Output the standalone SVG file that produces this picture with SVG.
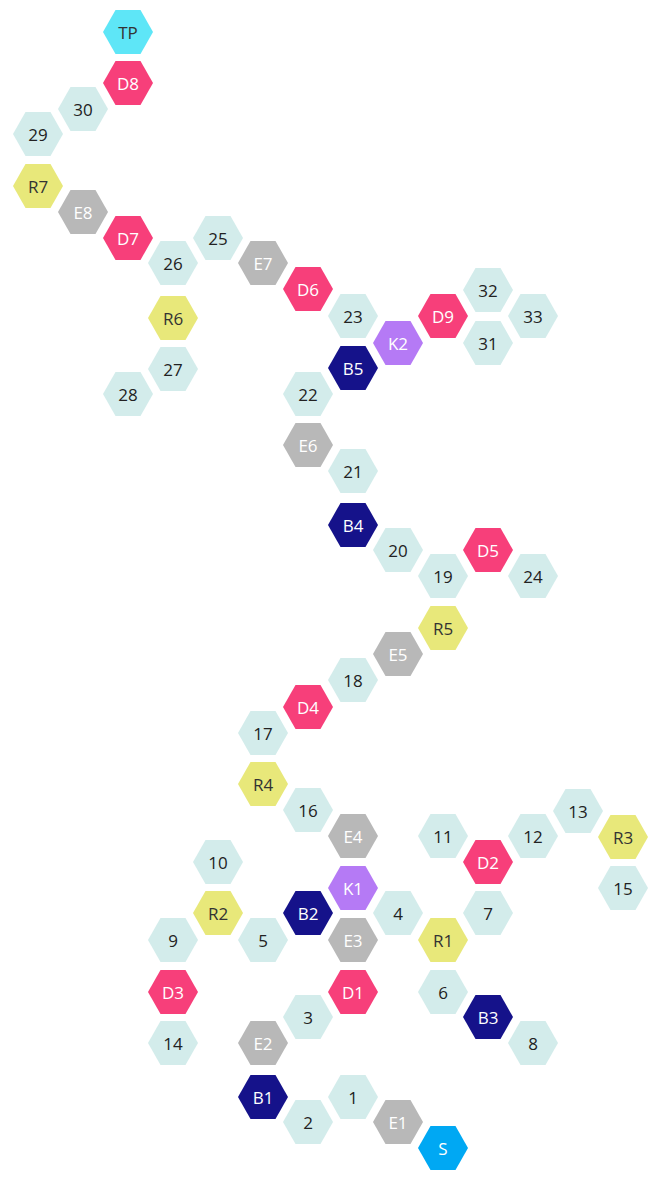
<svg xmlns="http://www.w3.org/2000/svg" width="656" height="1177" viewBox="0 0 656 1177">
<defs><polygon id="h" points="-25,0 -12.5,-22 12.5,-22 25,0 12.5,22 -12.5,22"/></defs>
<style>
text{font-family:"Open Sans","DejaVu Sans",sans-serif;font-size:17px;text-anchor:middle;dominant-baseline:central}
.n use{fill:#d3eceb}.n text{fill:#222}
.d use{fill:#f73f7a}.d text{fill:#fff}
.e use{fill:#b8b8b8}.e text{fill:#fff}
.r use{fill:#e8e87a}.r text{fill:#333}
.b use{fill:#15128a}.b text{fill:#fff}
.k use{fill:#b57af5}.k text{fill:#fff}
.t use{fill:#5ee6f7}.t text{fill:#333}
.s use{fill:#00a8f3}.s text{fill:#fff}
</style>
<g id="connectors"/>
<g id="TP" class="t" transform="translate(128,32)"><use href="#h"/><text>TP</text></g>
<g id="D8" class="d" transform="translate(128,83)"><use href="#h"/><text>D8</text></g>
<g id="n30" class="n" transform="translate(83,109)"><use href="#h"/><text>30</text></g>
<g id="n29" class="n" transform="translate(38,134)"><use href="#h"/><text>29</text></g>
<g id="R7" class="r" transform="translate(38,186)"><use href="#h"/><text>R7</text></g>
<g id="E8" class="e" transform="translate(83,212)"><use href="#h"/><text>E8</text></g>
<g id="D7" class="d" transform="translate(128,238)"><use href="#h"/><text>D7</text></g>
<g id="n26" class="n" transform="translate(173,263)"><use href="#h"/><text>26</text></g>
<g id="n25" class="n" transform="translate(218,238)"><use href="#h"/><text>25</text></g>
<g id="E7" class="e" transform="translate(263,263)"><use href="#h"/><text>E7</text></g>
<g id="D6" class="d" transform="translate(308,289)"><use href="#h"/><text>D6</text></g>
<g id="R6" class="r" transform="translate(173,318)"><use href="#h"/><text>R6</text></g>
<g id="n27" class="n" transform="translate(173,369)"><use href="#h"/><text>27</text></g>
<g id="n28" class="n" transform="translate(128,394)"><use href="#h"/><text>28</text></g>
<g id="n23" class="n" transform="translate(353,316)"><use href="#h"/><text>23</text></g>
<g id="K2" class="k" transform="translate(398,343)"><use href="#h"/><text>K2</text></g>
<g id="D9" class="d" transform="translate(443,316)"><use href="#h"/><text>D9</text></g>
<g id="n32" class="n" transform="translate(488,290)"><use href="#h"/><text>32</text></g>
<g id="n33" class="n" transform="translate(533,316)"><use href="#h"/><text>33</text></g>
<g id="n31" class="n" transform="translate(488,343)"><use href="#h"/><text>31</text></g>
<g id="B5" class="b" transform="translate(353,368)"><use href="#h"/><text>B5</text></g>
<g id="n22" class="n" transform="translate(308,394)"><use href="#h"/><text>22</text></g>
<g id="E6" class="e" transform="translate(308,445)"><use href="#h"/><text>E6</text></g>
<g id="n21" class="n" transform="translate(353,471)"><use href="#h"/><text>21</text></g>
<g id="B4" class="b" transform="translate(353,525)"><use href="#h"/><text>B4</text></g>
<g id="n20" class="n" transform="translate(398,550)"><use href="#h"/><text>20</text></g>
<g id="n19" class="n" transform="translate(443,576)"><use href="#h"/><text>19</text></g>
<g id="D5" class="d" transform="translate(488,550)"><use href="#h"/><text>D5</text></g>
<g id="n24" class="n" transform="translate(533,576)"><use href="#h"/><text>24</text></g>
<g id="R5" class="r" transform="translate(443,628)"><use href="#h"/><text>R5</text></g>
<g id="E5" class="e" transform="translate(398,654)"><use href="#h"/><text>E5</text></g>
<g id="n18" class="n" transform="translate(353,680)"><use href="#h"/><text>18</text></g>
<g id="D4" class="d" transform="translate(308,707)"><use href="#h"/><text>D4</text></g>
<g id="n17" class="n" transform="translate(263,733)"><use href="#h"/><text>17</text></g>
<g id="R4" class="r" transform="translate(263,784)"><use href="#h"/><text>R4</text></g>
<g id="n16" class="n" transform="translate(308,810)"><use href="#h"/><text>16</text></g>
<g id="E4" class="e" transform="translate(353,836)"><use href="#h"/><text>E4</text></g>
<g id="n11" class="n" transform="translate(443,836)"><use href="#h"/><text>11</text></g>
<g id="n12" class="n" transform="translate(533,836)"><use href="#h"/><text>12</text></g>
<g id="n13" class="n" transform="translate(578,811)"><use href="#h"/><text>13</text></g>
<g id="R3" class="r" transform="translate(623,837)"><use href="#h"/><text>R3</text></g>
<g id="D2" class="d" transform="translate(488,862)"><use href="#h"/><text>D2</text></g>
<g id="n15" class="n" transform="translate(623,888)"><use href="#h"/><text>15</text></g>
<g id="n10" class="n" transform="translate(218,862)"><use href="#h"/><text>10</text></g>
<g id="K1" class="k" transform="translate(353,888)"><use href="#h"/><text>K1</text></g>
<g id="R2" class="r" transform="translate(218,913)"><use href="#h"/><text>R2</text></g>
<g id="B2" class="b" transform="translate(308,913)"><use href="#h"/><text>B2</text></g>
<g id="n4" class="n" transform="translate(398,913)"><use href="#h"/><text>4</text></g>
<g id="n7" class="n" transform="translate(488,913)"><use href="#h"/><text>7</text></g>
<g id="n9" class="n" transform="translate(173,940)"><use href="#h"/><text>9</text></g>
<g id="n5" class="n" transform="translate(263,940)"><use href="#h"/><text>5</text></g>
<g id="E3" class="e" transform="translate(353,940)"><use href="#h"/><text>E3</text></g>
<g id="R1" class="r" transform="translate(443,940)"><use href="#h"/><text>R1</text></g>
<g id="D3" class="d" transform="translate(173,992)"><use href="#h"/><text>D3</text></g>
<g id="D1" class="d" transform="translate(353,992)"><use href="#h"/><text>D1</text></g>
<g id="n6" class="n" transform="translate(443,992)"><use href="#h"/><text>6</text></g>
<g id="n3" class="n" transform="translate(308,1017)"><use href="#h"/><text>3</text></g>
<g id="B3" class="b" transform="translate(488,1017)"><use href="#h"/><text>B3</text></g>
<g id="n14" class="n" transform="translate(173,1043)"><use href="#h"/><text>14</text></g>
<g id="E2" class="e" transform="translate(263,1043)"><use href="#h"/><text>E2</text></g>
<g id="n8" class="n" transform="translate(533,1043)"><use href="#h"/><text>8</text></g>
<g id="n1" class="n" transform="translate(353,1097)"><use href="#h"/><text>1</text></g>
<g id="B1" class="b" transform="translate(263,1097)"><use href="#h"/><text>B1</text></g>
<g id="n2" class="n" transform="translate(308,1122)"><use href="#h"/><text>2</text></g>
<g id="E1" class="e" transform="translate(398,1122)"><use href="#h"/><text>E1</text></g>
<g id="S" class="s" transform="translate(443,1148)"><use href="#h"/><text>S</text></g>
</svg>
